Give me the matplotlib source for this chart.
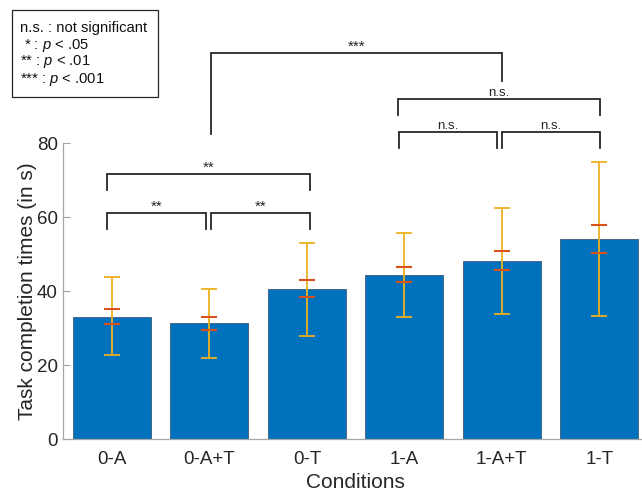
import matplotlib
matplotlib.use("Agg")
import matplotlib.pyplot as plt
from matplotlib.patches import Rectangle

plt.rcParams['font.family'] = ['Liberation Sans', 'DejaVu Sans']
plt.rcParams['mathtext.fontset'] = 'custom'
plt.rcParams['mathtext.it'] = 'Liberation Sans:italic'
plt.rcParams['mathtext.rm'] = 'Liberation Sans'

# ---- data ----
conditions = ['0-A', '0-A+T', '0-T', '1-A', '1-A+T', '1-T']
means = [33.1, 31.4, 40.5, 44.4, 48.2, 54.0]
range_low = [22.7, 21.9, 28.0, 33.1, 33.9, 33.3]
range_high = [43.7, 40.7, 53.0, 55.6, 62.6, 74.9]
se_low = [31.2, 29.6, 38.3, 42.5, 45.6, 50.3]
se_high = [35.1, 33.1, 42.9, 46.4, 50.8, 57.9]

# brackets: x_left, x_right, y_top, y_left_end, y_right_end, label
bracket_x1 = [0.95, 2.02, 0.95, 3.94, 5.00, 3.93, 2.02]
bracket_x2 = [1.96, 3.03, 3.03, 4.95, 6.01, 6.01, 5.00]
bracket_top = [61.2, 61.2, 71.7, 83.0, 83.0, 91.9, 104.5]
bracket_lend = [56.8, 56.8, 67.5, 78.7, 78.7, 87.7, 82.6]
bracket_rend = [56.8, 56.8, 67.5, 78.7, 78.7, 87.7, 96.8]
bracket_labels = ['**', '**', '**', 'n.s.', 'n.s.', 'n.s.', '***']

legend_lines = ['n.s. : not significant', r' * : $\it{p}$ < .05',
                r'** : $\it{p}$ < .01', r'*** : $\it{p}$ < .001']

W, H = 642, 492
fig = plt.figure(figsize=(W / 100, H / 100), dpi=100)
ax = fig.add_axes([63.3 / W, 53 / H, 584.7 / W, 295.7 / H])

x = list(range(1, len(conditions) + 1))
ax.bar(x, means, width=0.8, color='#0072BD', edgecolor='#3c5a78', linewidth=0.6, zorder=2)

se_err = [[m - l for m, l in zip(means, se_low)], [h - m for m, h in zip(means, se_high)]]
rng_err = [[m - l for m, l in zip(means, range_low)], [h - m for m, h in zip(means, range_high)]]
ax.errorbar(x, means, yerr=rng_err, fmt='none', ecolor='#EDB120', elinewidth=1.3,
            capsize=5.6, capthick=1.3, zorder=3)
ax.errorbar(x, means, yerr=se_err, fmt='none', ecolor='#D95319', elinewidth=0,
            capsize=5.6, capthick=1.5, zorder=4)

ax.set_xlim(0.5, 6.5)
ax.set_ylim(0, 80)
ax.set_yticks([0, 20, 40, 60, 80])
ax.set_xticks(x)
ax.set_xticklabels(conditions)
for s in ['top', 'right']:
    ax.spines[s].set_visible(False)
for s in ['left', 'bottom']:
    ax.spines[s].set_color('#a6a6a6')
    ax.spines[s].set_linewidth(0.9)
ax.tick_params(axis='y', direction='in', length=5, color='#a6a6a6', labelsize=13.5,
               labelcolor='#262626', pad=4)
ax.tick_params(axis='x', direction='in', length=0, labelsize=13.5, labelcolor='#262626', pad=9)
ax.set_xlabel('Conditions', fontsize=15, color='#262626', labelpad=3)
ax.set_ylabel('Task completion times (in s)', fontsize=15, color='#262626', labelpad=0)

for x1, x2, yt, yl, yr, lab in zip(bracket_x1, bracket_x2, bracket_top, bracket_lend,
                                   bracket_rend, bracket_labels):
    ax.plot([x1, x1, x2, x2], [yl, yt, yt, yr], color='#262626', lw=1.3,
            clip_on=False, zorder=5, solid_joinstyle='miter')
    if lab.startswith('*'):
        ax.text((x1 + x2) / 2, yt + 0.6, lab, ha='center', va='baseline', fontsize=11,
                color='#262626', clip_on=False)
    else:
        ax.text((x1 + x2) / 2, yt + 0.9, lab, ha='center', va='baseline', fontsize=9.5,
                color='#262626', clip_on=False)

# legend-like note box
fig.patches.append(Rectangle((12 / W, 1 - 97 / H), 146.3 / W, 87 / H, transform=fig.transFigure,
                             facecolor='white', edgecolor='#262626', lw=0.9))
for i, line in enumerate(legend_lines):
    fig.text(20 / W, 1 - (28 + 17 * i) / H, line, fontsize=10.6, va='center', ha='left',
             color='#111111')

fig.savefig('out.png', dpi=100)
